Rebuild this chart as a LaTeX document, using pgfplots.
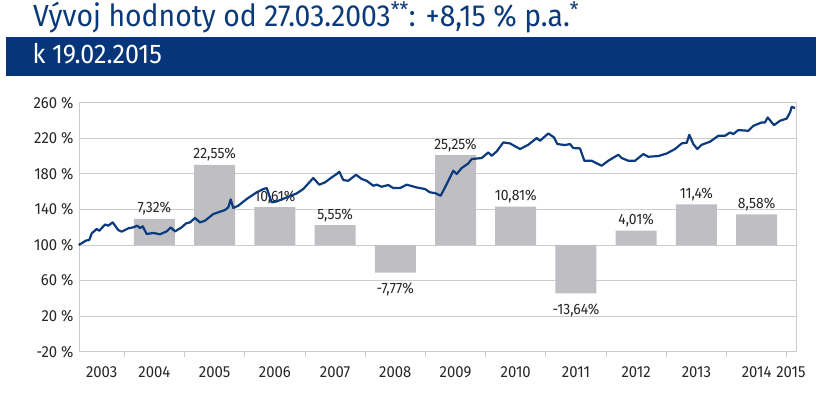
\documentclass[border=0pt]{standalone}
\usepackage{pgfplots}
\pgfplotsset{compat=1.18}
\usepackage{fontspec}
\setmainfont{Fira Sans}[FakeStretch=0.93]
\definecolor{titleblue}{HTML}{0B3A7A}
\definecolor{bandblue}{HTML}{063579}
\definecolor{lineblue}{HTML}{0B3A7E}
\definecolor{bargray}{HTML}{BFBFC3}
\definecolor{gridgray}{HTML}{CCCCCC}
\definecolor{txt}{HTML}{262626}
\pgfplotsset{
  common/.style={scale only axis, width=717pt, height=249pt,
    at={(79pt,41.3pt)}, anchor=south west,
    xmin=2003.248, xmax=2015.154},
  hidden/.style={common, axis lines=none, xtick=\empty, ytick=\empty}
}
\begin{document}
\begin{tikzpicture}
\path[use as bounding box] (0,0) rectangle (823pt,393pt);
% title and band
\node[anchor=base west, inner sep=0pt, text=titleblue, font=\fontsize{30.5}{36}\selectfont]
  at (33pt,366.3pt) {Vývoj hodnoty od 27.03.2003\textsuperscript{**}: +8,15 \% p.a.\textsuperscript{*}};
\fill[bandblue] (6pt,317.3pt) rectangle (816pt,356.3pt);
\node[anchor=base west, inner sep=0pt, text=white, font=\fontsize{27}{32}\selectfont]
  at (32.3pt,329.7pt) {k 19.02.2015};
% axis frame, grid, ticks
\begin{axis}[common,
  ymin=-20, ymax=260, ytick={-20,20,...,260},
  ymajorgrids, grid style={gridgray, line width=0.8pt},
  axis line style={gridgray, line width=0.8pt},
  /pgf/number format/assume math mode=true,
  yticklabel={\pgfmathprintnumber{\tick} \%},
  xtick={2003.625,2004.5,2005.5,2006.5,2007.5,2008.5,2009.5,2010.5,2011.5,2012.5,2013.5,2014.5,2015.07},
  xticklabels={2003,2004,2005,2006,2007,2008,2009,2010,2011,2012,2013,2014,2015},
  major tick length=0pt,
  extra x ticks={2004,2005,2006,2007,2008,2009,2010,2011,2012,2013,2014,2015},
  extra x tick labels={},
  extra x tick style={major tick length=5pt, tick align=outside, xmajorgrids=false,
     tick style={gridgray, line width=0.8pt}},
  tick pos=left,
  ticklabel style={font=\fontsize{16}{19}\selectfont, text=txt},
  xticklabel style={yshift=-11pt},
  yticklabel style={xshift=-2pt},
]
\end{axis}
% bars (annual returns, secondary scale)
\begin{axis}[hidden, ymin=-30, ymax=40,
  ybar, bar width=41pt,
  /pgf/number format/assume math mode=true,
  visualization depends on={rawy \as \rawy},
  nodes near coords={\pgfmathprintnumber[fixed, precision=2, use comma]{\pgfplotspointmeta}\%},
  every node near coord/.append style={font=\fontsize{15}{18}\selectfont, text=txt,
     yshift={\rawy<0 ? -7 : 0}},
  clip=false]
\addplot[fill=bargray, draw=none] coordinates {
 (2004.5,7.32) (2005.5,22.55) (2006.5,10.61) (2007.5,5.55) (2008.5,-7.77)
 (2009.5,25.25) (2010.5,10.81) (2011.5,-13.64) (2012.5,4.01) (2013.5,11.4) (2014.5,8.58)};
\end{axis}
% value development line
\begin{axis}[hidden, ymin=-20, ymax=260, clip=false]
\addplot[lineblue, line width=2.2pt, line join=round] table {
2003.243 100
2003.319 103
2003.364 105
2003.419 105.6
2003.459 113
2003.542 118
2003.585 116
2003.680 123
2003.734 121.7
2003.807 125.4
2003.900 116.8
2003.957 115
2004.066 118.7
2004.149 119.8
2004.216 121.7
2004.261 119
2004.306 121
2004.372 112.3
2004.482 113.5
2004.593 112
2004.704 115.3
2004.771 119.8
2004.842 115.3
2004.953 119.8
2005.025 124.3
2005.091 125.4
2005.174 130.3
2005.257 125.4
2005.340 127.3
2005.478 134.8
2005.589 137.4
2005.672 139.3
2005.727 142.3
2005.767 151.3
2005.810 141.6
2005.893 144.2
2006.033 151.7
2006.199 159.2
2006.308 162.9
2006.365 164
2006.408 155.4
2006.448 147.9
2006.531 149
2006.697 153.5
2006.863 158
2006.972 162.9
2007.138 175.3
2007.238 167.8
2007.333 170.4
2007.444 176
2007.527 179.8
2007.570 182.4
2007.637 173
2007.720 172.2
2007.848 179
2007.942 174.2
2008.025 172.2
2008.135 166.6
2008.191 167.8
2008.274 165.5
2008.384 167.4
2008.467 164
2008.578 164
2008.689 167.8
2008.855 164.7
2008.993 162.9
2009.076 159.2
2009.159 158.4
2009.254 155.4
2009.325 164.7
2009.408 176
2009.463 183.5
2009.520 179.8
2009.603 186.5
2009.712 191.7
2009.769 196.6
2009.935 197.8
2010.044 204
2010.101 200.3
2010.184 205.2
2010.294 215.3
2010.405 214.2
2010.571 207.9
2010.709 212.7
2010.848 220.2
2010.903 217.2
2011.041 225.4
2011.136 220.9
2011.190 213.5
2011.318 212.4
2011.401 213.5
2011.456 209
2011.567 208.6
2011.639 194.7
2011.761 194.7
2011.927 189.1
2012.037 194.7
2012.203 201.5
2012.259 197.8
2012.369 194.7
2012.480 194.7
2012.618 202.2
2012.701 199.2
2012.867 200
2013.007 202.9
2013.145 207.9
2013.256 214.2
2013.339 214.9
2013.382 223.9
2013.449 213.5
2013.515 207.9
2013.588 212.7
2013.726 216.1
2013.864 222.8
2013.975 222.8
2014.058 226.5
2014.113 224.7
2014.196 229.2
2014.362 228.4
2014.445 234
2014.585 237.8
2014.639 237.8
2014.684 243.4
2014.751 237.8
2014.789 234.8
2014.889 239.7
2015.000 242.2
2015.055 249
2015.083 255.4
2015.138 253.9
};
\end{axis}
\end{tikzpicture}
\end{document}
